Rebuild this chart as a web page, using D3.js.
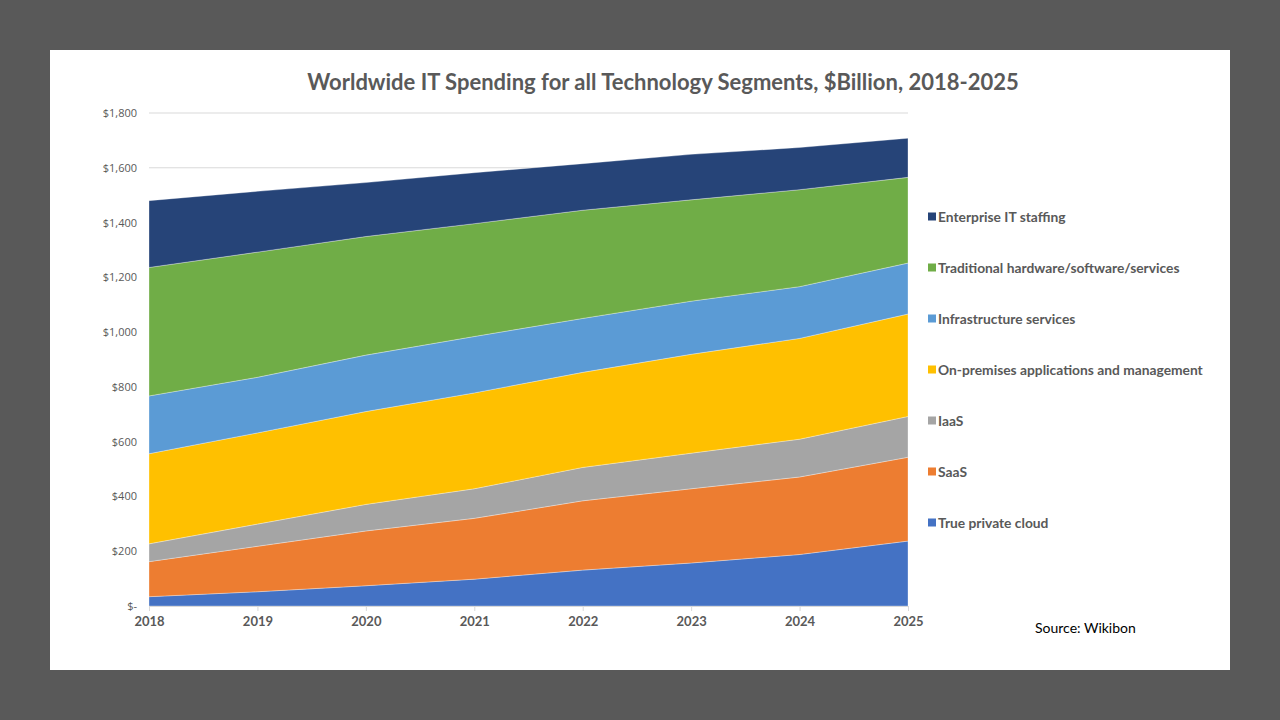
<!DOCTYPE html>
<html><head><meta charset="utf-8">
<script src="https://cdn.jsdelivr.net/npm/d3@7"></script>
<style>
html,body{margin:0;padding:0;background:#595959;}
svg{display:block;}
</style></head>
<body>
<svg id="chart" width="1280" height="720"></svg>
<script>
const years = ["2018","2019","2020","2021","2022","2023","2024","2025"];
const seriesNames = ["True private cloud","SaaS","IaaS","On-premises applications and management","Infrastructure services","Traditional hardware/software/services","Enterprise IT staffing"];
const truePrivateCloud = [34, 52, 74, 98, 131, 157, 188, 237];
const saas = [128, 166, 200, 222, 253, 271, 283, 306];
const iaas = [65, 81, 97, 108, 122, 130, 138, 149];
const onPremApps = [329, 333, 339, 350, 347, 361, 368, 374];
const infraServices = [211, 203, 206, 206, 197, 194, 189, 186];
const traditional = [469, 457, 433, 412, 395, 370, 354, 313];
const itStaffing = [244, 222, 197, 186, 170, 166, 154, 143];
const yTicks = [0,200,400,600,800,1000,1200,1400,1600,1800];
const colors = ["#4472C4","#ED7D31","#A5A5A5","#FFC000","#5B9BD5","#70AD47","#264478"];

const seriesValues = [truePrivateCloud, saas, iaas, onPremApps, infraServices, traditional, itStaffing];
const table = years.map((y,i)=>{
  const row = {year:y};
  seriesNames.forEach((n,k)=>row[n]=seriesValues[k][i]);
  return row;
});

const svg = d3.select("#chart");
svg.append("rect").attr("x",50).attr("y",50).attr("width",1180).attr("height",620).attr("fill","#ffffff");

const x = d3.scalePoint().domain(years).range([149,908]);
const y = d3.scaleLinear().domain([0,1800]).range([606,113]);

// gridlines
svg.append("g").selectAll("line").data(yTicks.filter(d=>d>0)).join("line")
  .attr("x1",149).attr("x2",908).attr("y1",d=>y(d)).attr("y2",d=>y(d))
  .attr("stroke","#d9d9d9").attr("stroke-width",1);

const stack = d3.stack().keys(seriesNames);
const layers = stack(table);
const area = d3.area().x(d=>x(d.data.year)).y0(d=>y(d[0])).y1(d=>y(d[1]));
svg.append("g").selectAll("path").data(layers).join("path")
  .attr("d",area).attr("fill",(d,i)=>colors[i])
  .attr("stroke","rgba(255,255,255,0.45)").attr("stroke-width",0.7);

// y axis
const fmt = d=> d===0 ? "$-" : "$"+d3.format(",")(d);
const yAxis = d3.axisLeft(y).tickValues(yTicks).tickFormat(fmt).tickSize(0).tickPadding(12);
const ya = svg.append("g").attr("transform","translate(149,0)").call(yAxis);
ya.select(".domain").remove();
ya.selectAll("text").attr("font-family","'Open Sans', Lato, sans-serif").attr("font-size",11).attr("fill","#595959");

// x axis
const xAxis = d3.axisBottom(x).tickSize(5).tickPadding(6);
const xa = svg.append("g").attr("transform","translate(0,606)").call(xAxis);
xa.select(".domain").attr("stroke","#d9d9d9");
xa.selectAll("line").attr("stroke","#d9d9d9");
xa.selectAll("text").attr("font-family","Lato, 'Open Sans', sans-serif").attr("font-weight","bold").attr("font-size",13).attr("fill","#595959");

// title
svg.append("text").attr("x",663).attr("y",90).attr("text-anchor","middle")
  .attr("font-family","Lato, 'Open Sans', sans-serif").attr("font-weight","bold").attr("font-size",22)
  .attr("fill","#595959").text("Worldwide IT Spending for all Technology Segments, $Billion, 2018-2025");

// legend (top to bottom reverse order)
const legendItems = seriesNames.map((n,i)=>({name:n,color:colors[i]})).reverse();
const lg = svg.append("g").selectAll("g").data(legendItems).join("g")
  .attr("transform",(d,i)=>`translate(928,${217+i*51})`);
lg.append("rect").attr("x",0).attr("y",-4.5).attr("width",8).attr("height",8).attr("fill",d=>d.color);
lg.append("text").attr("x",10).attr("y",0).attr("dy","0.35em")
  .attr("font-family","Lato, 'Open Sans', sans-serif").attr("font-weight","bold").attr("font-size",13.8)
  .attr("fill","#595959").text(d=>d.name);

svg.append("text").attr("x",1035).attr("y",633)
  .attr("font-family","Lato, 'Open Sans', sans-serif").attr("font-size",14)
  .attr("fill","#000000").text("Source: Wikibon");
</script>
</body></html>
